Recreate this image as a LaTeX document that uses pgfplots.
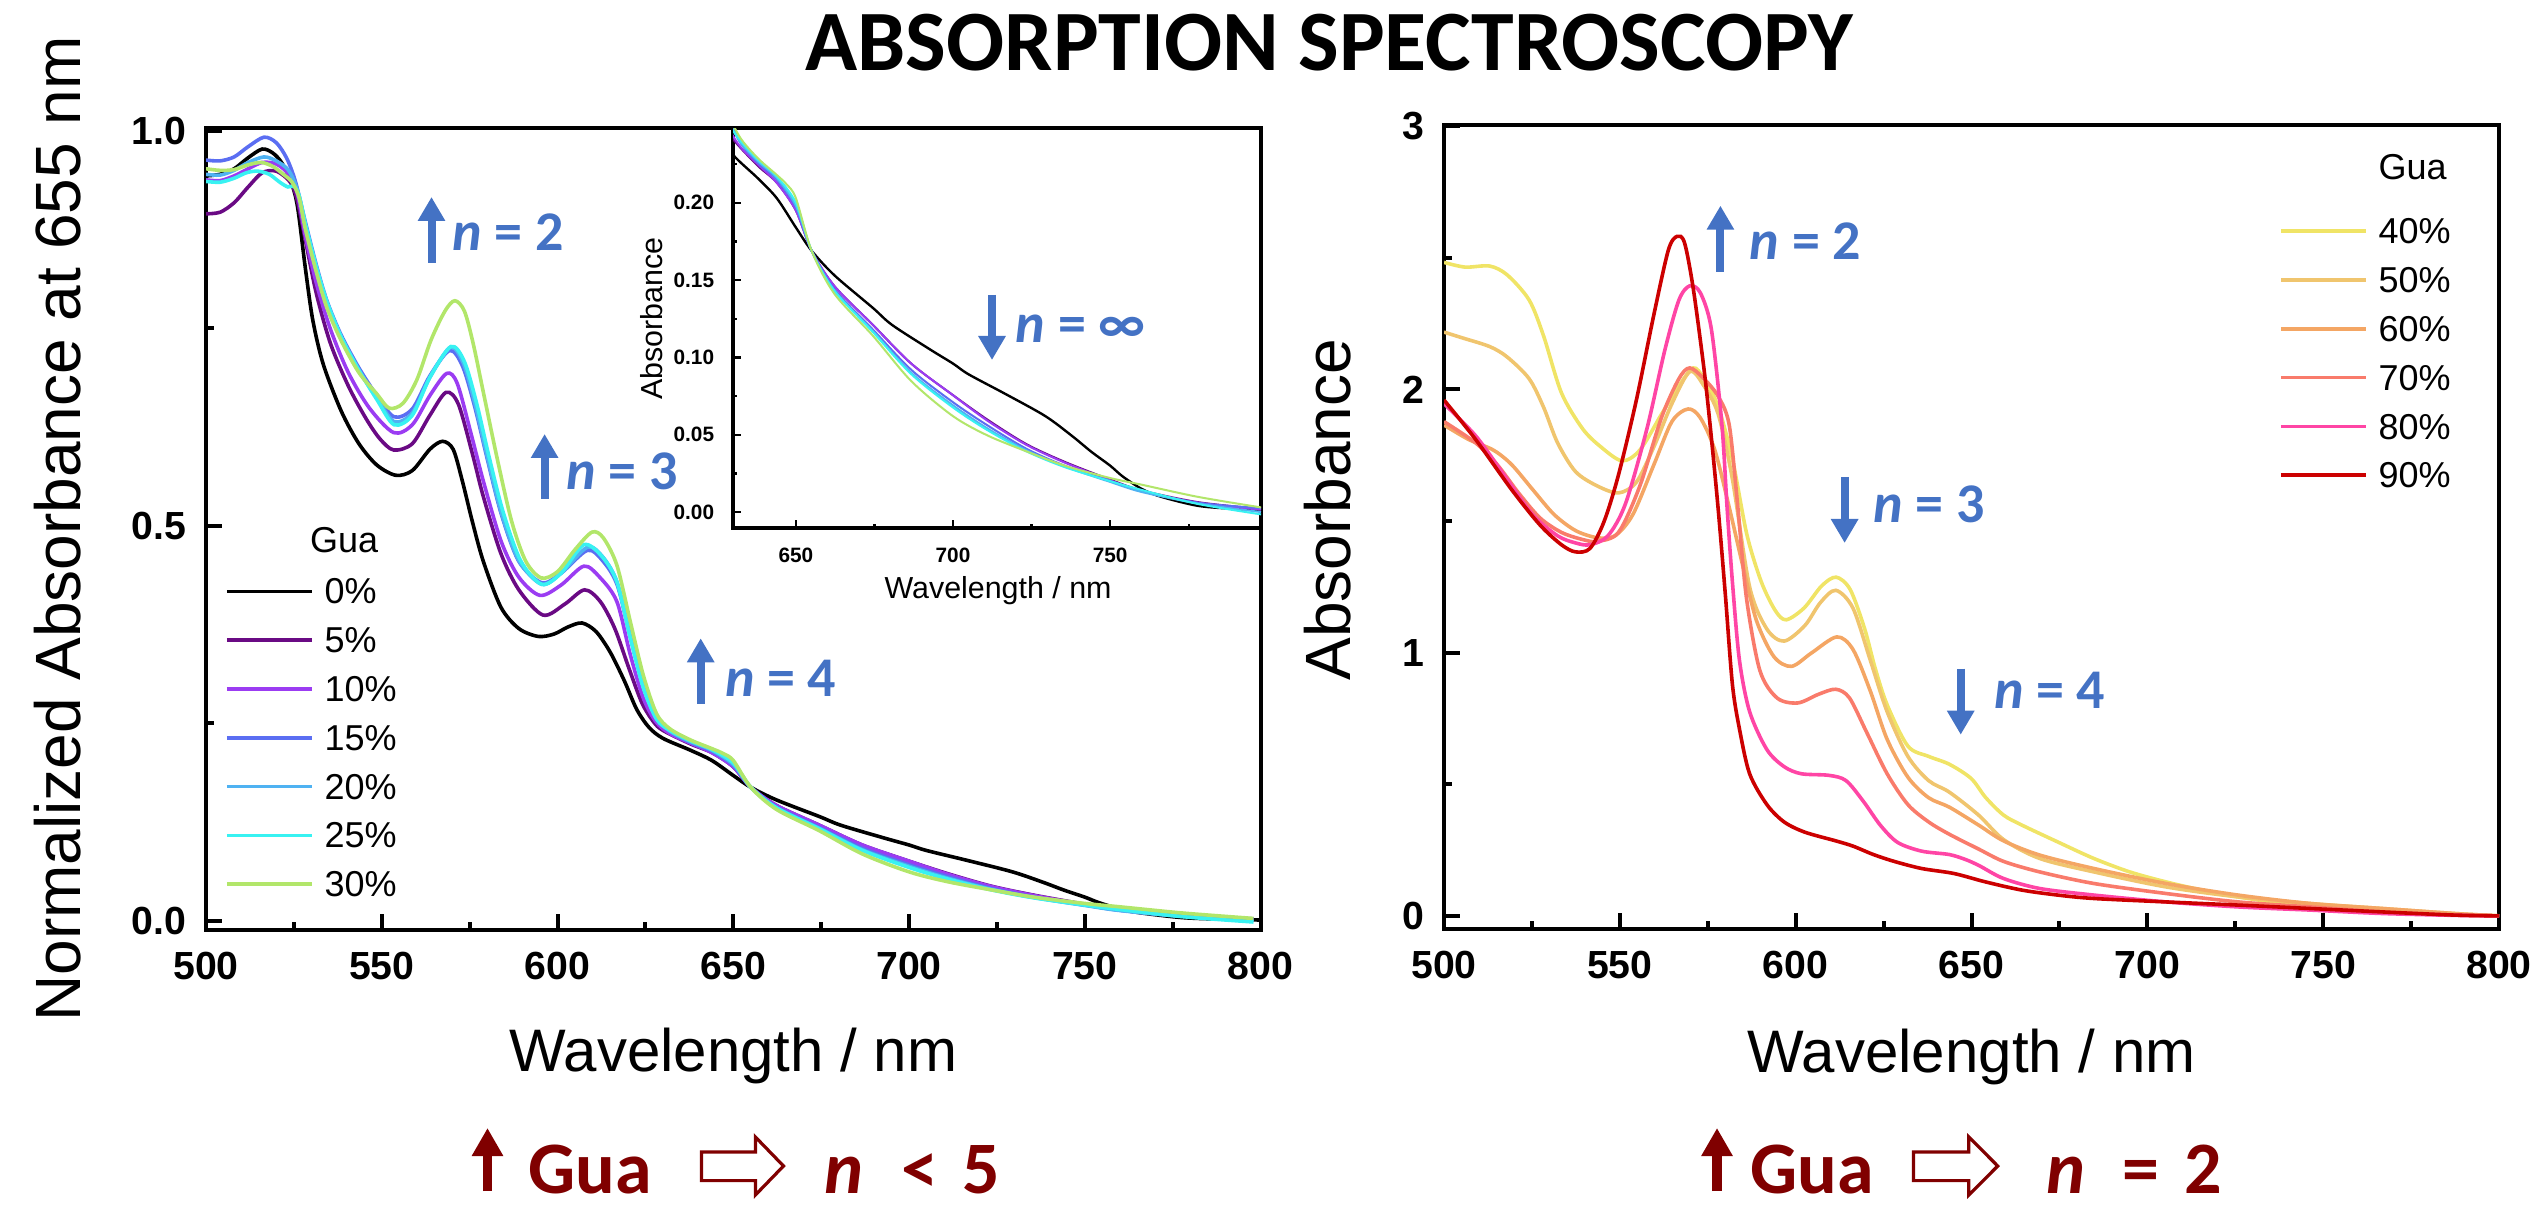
\documentclass[border=0pt]{standalone}
\usepackage{fontspec}
\setmainfont{Liberation Sans}
\newfontfamily\calfont{Carlito}
\usepackage{pgfplots}
\usepackage{pgfplotstable}
\pgfplotsset{compat=1.18}
\usetikzlibrary{arrows.meta}

\definecolor{c0}{HTML}{000000}
\definecolor{c5}{HTML}{6A0A84}
\definecolor{c10}{HTML}{9B3CF2}
\definecolor{c15}{HTML}{5B6EF2}
\definecolor{c20}{HTML}{4FB2F2}
\definecolor{c25}{HTML}{38F2F2}
\definecolor{c30}{HTML}{B2E66A}
\definecolor{c40}{HTML}{F0E466}
\definecolor{c50}{HTML}{F0C56E}
\definecolor{c60}{HTML}{F4A664}
\definecolor{c70}{HTML}{F97B6B}
\definecolor{c80}{HTML}{FF45A5}
\definecolor{c90}{HTML}{CC0000}
\definecolor{annblue}{HTML}{4472C4}
\definecolor{darkred}{HTML}{800000}

% ---------- left panel (normalized) ----------
\pgfplotstableread{
w a
500 0.943
504 0.945
508 0.952
512 0.966
516 0.977
519 0.972
521.5 0.960
524 0.938
526 0.905
528.3 0.825
530.4 0.760
533.4 0.704
538.5 0.645
543.5 0.604
548.6 0.577
554 0.564
558.7 0.570
563.7 0.597
567.3 0.607
570.3 0.597
572.8 0.559
575.8 0.505
578.9 0.455
583.9 0.397
589 0.370
594.5 0.360
599 0.363
603 0.372
607 0.377
611 0.366
615 0.340
619 0.304
622.5 0.268
626 0.245
630 0.231
637.8 0.216
643.9 0.203
650 0.184
655 0.169
662.3 0.153
674.5 0.132
680.6 0.121
692.8 0.105
700 0.096
705 0.089
717 0.076
729.4 0.062
738 0.049
744 0.039
750 0.030
754 0.023
760 0.015
766 0.010
778 0.004
790 0.002
800 0.001
}\tZero
\pgfplotstableread{
w a
500 0.895
504 0.897
508 0.909
512 0.929
516 0.947
520 0.949
523.8 0.936
525.8 0.915
528.3 0.861
531.4 0.794
535.4 0.731
540.5 0.677
545.5 0.636
549.5 0.610
553.4 0.596
558.7 0.604
563.7 0.640
568.3 0.669
571.8 0.654
575.8 0.591
578.9 0.537
583.9 0.465
589 0.419
595.9 0.387
602.1 0.401
607.7 0.419
612.2 0.404
616.3 0.370
620.3 0.320
624 0.276
627.3 0.252
630 0.241
637.8 0.224
643.9 0.213
650 0.195
655 0.169
662.3 0.146
674.5 0.121
686.7 0.096
700 0.0756
711 0.0597
723.3 0.044
735.5 0.0325
750 0.021
760 0.014
778 0.0064
798 0.002
}\tFive
\pgfplotstableread{
w a
500 0.938
504 0.937
508 0.943
512 0.952
516 0.960
520 0.958
523.5 0.945
526 0.920
528.3 0.866
531.4 0.807
535.4 0.749
540.5 0.694
546.5 0.649
553.4 0.618
558.7 0.628
563.7 0.665
568.5 0.693
571.5 0.680
575.5 0.615
579 0.555
584 0.480
589 0.435
595 0.412
601 0.425
607.5 0.449
612 0.435
616.9 0.404
620.7 0.337
624.4 0.282
628 0.252
632 0.237
637.8 0.225
643.9 0.213
650 0.195
655 0.169
662.3 0.146
674.5 0.121
686.7 0.096
700 0.0755
711 0.059
723.3 0.0435
735.5 0.032
750 0.0205
760 0.0135
778 0.006
798 0.0015
}\tTen
\pgfplotstableread{
w a
500 0.963
504 0.962
508 0.967
512 0.980
516.5 0.992
520 0.985
523 0.965
525.5 0.935
528.3 0.884
531.4 0.830
534.4 0.785
538.4 0.742
543.5 0.700
548.6 0.665
553.5 0.638
558.7 0.648
563.7 0.690
569.3 0.722
573 0.702
576.5 0.650
580 0.585
584 0.515
589 0.455
595.5 0.428
601 0.440
608.5 0.469
613 0.455
617 0.425
620.7 0.360
624.4 0.300
628 0.262
632 0.240
637.8 0.226
643.9 0.215
650 0.197
655 0.169
662.3 0.144
674.5 0.118
686.7 0.092
700 0.071
711 0.056
723.3 0.041
735.5 0.030
750 0.020
760 0.0135
778 0.006
798 0.0025
}\tFifteen
\pgfplotstableread{
w a
500 0.945
504 0.944
508 0.950
512 0.960
516.5 0.967
520 0.962
523.5 0.950
526 0.925
528.3 0.880
531.4 0.826
534.4 0.782
538.4 0.739
543.5 0.697
548.6 0.662
553.5 0.632
558.7 0.643
563.7 0.688
569.5 0.726
573.2 0.706
576.5 0.655
580 0.588
584 0.517
589 0.456
595.5 0.426
601 0.440
608.5 0.473
613 0.460
617 0.428
620.7 0.360
624.4 0.298
628 0.258
632 0.240
637.8 0.227
643.9 0.216
650 0.198
655 0.169
662.3 0.143
674.5 0.117
686.7 0.090
700 0.069
711 0.054
723.3 0.040
735.5 0.0295
750 0.0195
760 0.013
778 0.0055
798 0.000
}\tTwenty
\pgfplotstableread{
w a
500 0.936
504 0.935
508 0.940
511.5 0.947
514.7 0.949
518 0.945
521 0.935
523.3 0.929
525 0.930
526.5 0.918
528.3 0.882
531.4 0.828
534.4 0.784
538.4 0.740
543.5 0.697
548.6 0.660
553.5 0.628
558.7 0.640
563.7 0.688
569.7 0.727
573.5 0.708
577 0.655
580.5 0.588
584.5 0.518
589.5 0.456
595.5 0.426
601 0.440
607.4 0.476
612.5 0.462
616.9 0.429
620.7 0.358
624.4 0.295
628.2 0.255
632 0.241
637.8 0.228
643.9 0.217
650 0.200
655 0.169
662.3 0.143
674.5 0.1164
686.7 0.0892
700 0.0676
711 0.0529
723.3 0.0393
735.5 0.0291
750 0.020
760 0.0143
778 0.0052
798 -0.0015
}\tTwentyFive
\pgfplotstableread{
w a
500 0.952
504 0.950
508 0.951
512 0.957
515.7 0.960
519 0.955
522 0.945
524.5 0.935
526.5 0.915
528.3 0.875
531.4 0.821
534.4 0.776
538.4 0.735
543.5 0.694
548.6 0.667
552.1 0.649
556 0.655
560 0.685
564 0.735
568 0.772
570.8 0.785
573.5 0.772
576 0.731
579 0.667
583 0.582
587 0.505
591 0.455
595.4 0.434
600 0.442
605 0.470
609.8 0.492
613 0.485
616.9 0.450
620.7 0.379
624.4 0.311
628.2 0.262
632 0.243
637.8 0.229
643.9 0.218
647 0.212
650 0.203
655 0.169
662.3 0.141
674.5 0.114
686.7 0.0847
700 0.062
711 0.0495
723.3 0.0393
735.5 0.030
750 0.022
760 0.0177
778 0.0098
798 0.003
}\tThirty

% ---------- right panel ----------
\pgfplotstableread{
w a
500 2.483
506 2.465
513 2.469
518 2.435
524.2 2.340
528.3 2.204
533.4 1.987
539.4 1.851
544.5 1.783
550.6 1.729
555.7 1.770
561.8 1.905
566.8 2.014
570.9 2.082
573.9 2.041
578 1.933
582.1 1.729
586.1 1.45
590.2 1.27
594.2 1.16
597.3 1.125
602.4 1.170
607.4 1.254
611.5 1.287
615.5 1.240
619.6 1.091
622.6 0.941
626 0.802
631.9 0.645
637.8 0.606
643.7 0.576
649.9 0.522
654 0.450
659.1 0.383
664.3 0.345
674.5 0.281
684.8 0.218
695 0.167
705.3 0.129
715.5 0.098
725.8 0.072
746.3 0.034
766.8 0.015
787.3 0.004
800 0.0
}\tForty
\pgfplotstableread{
w a
500 2.218
505 2.197
513 2.163
518 2.123
524.2 2.041
528.3 1.933
532.3 1.797
537.4 1.688
543.5 1.634
549.6 1.607
554.7 1.648
559.7 1.783
564.8 1.946
569.9 2.068
573.9 2.014
578 1.905
582 1.66
586.9 1.25
591.8 1.090
596.7 1.044
602.6 1.103
607 1.190
611.4 1.237
616.3 1.169
621.2 0.972
626 0.776
631.9 0.606
637.8 0.514
643.7 0.470
652 0.383
659.1 0.290
669.4 0.218
684.8 0.167
705.3 0.110
725.8 0.072
746.3 0.047
766.8 0.028
787.3 0.009
800 0.0
}\tFifty
\pgfplotstableread{
w a
500 1.865
507 1.810
514 1.770
519.2 1.715
525.2 1.620
531.3 1.525
537.4 1.464
543.5 1.437
548.6 1.444
553.7 1.525
559.7 1.715
564.8 1.878
569.4 1.926
572.9 1.892
577 1.770
581.1 1.552
585.1 1.322
588.9 1.12
593.8 0.985
598.8 0.948
604.5 0.999
611.7 1.060
616.3 1.012
621.2 0.855
626 0.671
631.9 0.527
637.8 0.449
643.7 0.413
652 0.345
659.1 0.285
669.4 0.231
684.8 0.180
705.3 0.123
725.8 0.079
746.3 0.047
766.8 0.028
787.3 0.009
800 0.0
}\tSixty
\pgfplotstableread{
w a
500 1.878
509 1.797
515.1 1.715
521.2 1.607
527.3 1.512
533.4 1.457
539.4 1.430
543.5 1.423
549.6 1.457
555.7 1.634
561.8 1.892
566.8 2.041
569.9 2.082
573.9 2.041
578 1.973
581.1 1.865
583.5 1.560
586 1.208
589.8 0.933
594.7 0.828
600.6 0.809
606.5 0.842
611.4 0.861
615.3 0.828
620.2 0.697
626 0.540
631.9 0.423
637.8 0.357
643.7 0.310
652 0.254
659.1 0.207
669.4 0.167
684.8 0.123
705.3 0.085
725.8 0.053
746.3 0.034
766.8 0.015
787.3 0.003
800 0.0
}\tSeventy
\pgfplotstableread{
w a
500 1.946
509 1.824
517.1 1.675
525.2 1.525
532.3 1.444
537.4 1.417
541.5 1.410
546.6 1.444
551.6 1.566
557.7 1.851
562.8 2.150
566.8 2.340
569.9 2.394
572.9 2.367
576 2.231
579 1.870
580.5 1.550
582 1.270
584 0.972
586.9 0.776
591.8 0.632
596.7 0.567
601.6 0.540
609.4 0.534
614.3 0.514
619.2 0.436
624.1 0.344
629 0.279
635.8 0.246
643.7 0.233
648.5 0.213
652.3 0.190
659.1 0.142
669.4 0.104
684.8 0.079
705.3 0.053
725.8 0.034
746.3 0.022
766.8 0.009
787.3 0.002
800 0.0
}\tEighty
\pgfplotstableread{
w a
500 1.960
509 1.810
519.2 1.620
527.3 1.485
533.4 1.410
537.4 1.383
541.5 1.396
545.5 1.498
549.6 1.675
554.7 1.960
559.7 2.286
563.8 2.530
566.3 2.582
568.4 2.557
570.9 2.381
574 2.070
576 1.820
578 1.540
580 1.220
582 0.880
584 0.711
586.9 0.540
591.8 0.423
596.7 0.357
602.6 0.318
611.4 0.285
616.3 0.265
622.1 0.233
628 0.207
635.8 0.180
645 0.161
654 0.129
664.3 0.098
674.5 0.079
684.8 0.066
705.3 0.053
725.8 0.041
746.3 0.028
766.8 0.015
787.3 0.003
800 0.0
}\tNinety

\pgfplotsset{
  mainax/.style={
    scale only axis, anchor=south west,
    xmin=500, xmax=800,
    xtick={500,550,600,650,700,750,800},
    xticklabels={500,550,600,650,700,750,800},
    minor xtick={525,575,625,675,725,775},
    tick align=inside, xtick pos=left, ytick pos=left,
    major tick length=4pt, minor tick length=2pt,
    tick style={line width=1pt, black},
    axis line style={line width=1pt},
    ticklabel style={font=\fontsize{9.8}{11.5}\selectfont\bfseries},
    xticklabel style={yshift=-2.1pt},
    yticklabel style={xshift=-1.4pt},
    legend cell align=left,
    legend image code/.code={\draw[##1,line width=0.9pt] (0pt,0.5pt) -- (21.25pt,0.5pt); \path (22.25pt,0pt);},
    every axis plot/.append style={smooth, line width=0.9pt},
  },
  legsty/.style={draw=none, fill=none, inner sep=0pt, outer sep=0pt, row sep=0pt,
    nodes={inner sep=1.75pt, text height=7pt, text depth=1.7pt},
    font=\fontsize{9}{10.8}\selectfont},
}

\begin{document}
\begin{tikzpicture}
\useasboundingbox (0,0) rectangle (633.5pt,302.5pt);

% ===== left main axis =====
\begin{axis}[mainax,
  at={(51.5pt,70.125pt)}, width=263.625pt, height=200.25pt,
  ymin=-0.011, ymax=1.003,
  ytick={0,0.5,1}, yticklabels={0.0,0.5,1.0}, minor ytick={0.25,0.75},
  xlabel={Wavelength / nm}, ylabel={Normalized Absorbance at 655 nm},
  every axis x label/.style={at={(axis description cs:0.5,-0.1778)}, anchor=base, font=\fontsize{15}{18}\selectfont},
  every axis y label/.style={at={(axis description cs:-0.1403,0.5)}, rotate=90, anchor=center, font=\fontsize{16}{19}\selectfont},
  legend style={legsty, at={(axis description cs:0.018,0.5111)}, anchor=north west},
]
\addlegendimage{empty legend}\addlegendentry{\hspace*{-3.6pt}\raisebox{0.55pt}{Gua}}
\addplot[c0] table[x=w,y=a]{\tZero};\addlegendentry{0\%}
\addplot[c5] table[x=w,y=a]{\tFive};\addlegendentry{5\%}
\addplot[c10] table[x=w,y=a]{\tTen};\addlegendentry{10\%}
\addplot[c15] table[x=w,y=a]{\tFifteen};\addlegendentry{15\%}
\addplot[c20] table[x=w,y=a]{\tTwenty};\addlegendentry{20\%}
\addplot[c25] table[x=w,y=a]{\tTwentyFive};\addlegendentry{25\%}
\addplot[c30] table[x=w,y=a]{\tThirty};\addlegendentry{30\%}
\end{axis}

% ===== inset =====
\begin{axis}[
  at={(183.25pt,170.5pt)}, anchor=south west, scale only axis,
  width=132pt, height=99.875pt,
  axis background/.style={fill=white},
  xmin=630, xmax=798, ymin=-0.0103, ymax=0.248,
  xtick={650,700,750}, xticklabels={650,700,750}, minor xtick={675,725,775},
  ytick={0,0.05,0.1,0.15,0.2}, yticklabels={0.00,0.05,0.10,0.15,0.20},
  minor ytick={0.025,0.075,0.125,0.175,0.225},
  tick align=inside, xtick pos=left, ytick pos=left,
  major tick length=2pt, minor tick length=1pt,
  tick style={line width=0.6pt, black},
  axis line style={line width=0.8pt},
  ticklabel style={font=\fontsize{5.2}{6}\selectfont\bfseries},
  xticklabel style={yshift=-1.4pt},
  yticklabel style={xshift=-1.2pt},
  xlabel={Wavelength / nm}, ylabel={Absorbance},
  every axis x label/.style={at={(axis description cs:0.502,-0.1767)}, anchor=base, font=\fontsize{7.6}{9}\selectfont},
  every axis y label/.style={at={(axis description cs:-0.1534,0.524)}, rotate=90, anchor=center, font=\fontsize{7.6}{9}\selectfont},
  every axis plot/.append style={smooth, line width=0.5pt},
]
\addplot[c0,line width=0.6pt] table[x=w,y=a]{\tZero};
\addplot[c5] table[x=w,y=a]{\tFive};
\addplot[c10] table[x=w,y=a]{\tTen};
\addplot[c15] table[x=w,y=a]{\tFifteen};
\addplot[c20] table[x=w,y=a]{\tTwenty};
\addplot[c25] table[x=w,y=a]{\tTwentyFive};
\addplot[c30] table[x=w,y=a]{\tThirty};
\end{axis}

% ===== right axis =====
\begin{axis}[mainax,
  at={(361pt,70.375pt)}, width=263.75pt, height=200.875pt,
  ymin=-0.048, ymax=3.005,
  ytick={0,1,2,3}, yticklabels={0,1,2,3}, minor ytick={0.5,1.5,2.5},
  xlabel={Wavelength / nm}, ylabel={Absorbance},
  every axis x label/.style={at={(axis description cs:0.5,-0.1787)}, anchor=base, font=\fontsize{15}{18}\selectfont},
  every axis y label/.style={at={(axis description cs:-0.1104,0.521)}, rotate=90, anchor=center, font=\fontsize{16}{19}\selectfont},
  legend style={legsty, at={(axis description cs:0.7915,0.9564)}, anchor=north west},
]
\addlegendimage{empty legend}\addlegendentry{\raisebox{3.9pt}{Gua}}
\addplot[c40] table[x=w,y=a]{\tForty};\addlegendentry{40\%}
\addplot[c50] table[x=w,y=a]{\tFifty};\addlegendentry{50\%}
\addplot[c60] table[x=w,y=a]{\tSixty};\addlegendentry{60\%}
\addplot[c70] table[x=w,y=a]{\tSeventy};\addlegendentry{70\%}
\addplot[c80] table[x=w,y=a]{\tEighty};\addlegendentry{80\%}
\addplot[c90] table[x=w,y=a]{\tNinety};\addlegendentry{90\%}
\end{axis}

% ===== annotations in pixel coordinates =====
\begin{scope}[x=0.25pt, y=-0.25pt, yshift=302.5pt]
  \node[anchor=base, inner sep=0, font=\calfont\bfseries\fontsize{21.5}{25}\selectfont] at (1329.5,70.8) {ABSORPTION SPECTROSCOPY};

  \tikzset{annarr/.style={draw=annblue, line width=2pt, -{Triangle[width=6.5pt,length=6pt]}},
           anntxt/.style={anchor=west, inner sep=0, text=annblue, font=\calfont\bfseries\fontsize{14}{16}\selectfont}}
  % left panel
  \draw[annarr] (431.5,263) -- (431.5,197);
  \node[anntxt] at (452,232) {\textit{n} = 2};
  \draw[annarr] (544.6,498.6) -- (544.6,434);
  \node[anntxt] at (566,471.8) {\textit{n} = 3};
  \draw[annarr] (700.7,704) -- (700.7,638.3);
  \node[anntxt] at (724.3,678.3) {\textit{n} = 4};
  \draw[annarr] (992,295) -- (992,360);
  \node[anntxt] at (1015,328.6) {\textit{n} = ∞};
  % right panel
  \draw[annarr] (1720.4,271.8) -- (1720.4,205.7);
  \node[anntxt] at (1749,241.4) {\textit{n} = 2};
  \draw[annarr] (1844.6,477) -- (1844.6,543);
  \node[anntxt] at (1872.9,504) {\textit{n} = 3};
  \draw[annarr] (1960.7,668.6) -- (1960.7,734.7);
  \node[anntxt] at (1993.3,690) {\textit{n} = 4};

  % bottom captions (raised slightly so that their text boxes stay inside the page)
  \begin{scope}[yshift=2.5pt]
  \tikzset{redarr/.style={draw=darkred, line width=2.4pt, -{Triangle[width=7.4pt,length=7pt]}},
           redtxt/.style={anchor=base west, inner sep=0, text depth=0pt, text=darkred, font=\calfont\bfseries\fontsize{18.5}{22}\selectfont}}
  \draw[redarr] (487.5,1201) -- (487.5,1138);
  \node[redtxt] at (528,1203) {Gua};
  \draw[darkred, line width=0.8pt, fill=white] (701.5,1162) -- (755.4,1162) -- (755.4,1147) -- (783.5,1176) -- (755.4,1205) -- (755.4,1190.6) -- (701.5,1190.6) -- cycle;
  \node[redtxt] at (823.4,1203) {\textit{n}};
  \node[redtxt] at (901,1203) {<};
  \node[redtxt] at (962,1203) {5};

  \draw[redarr] (1717,1201) -- (1717,1138);
  \node[redtxt] at (1749.6,1203) {Gua};
  \draw[darkred, line width=0.8pt, fill=white] (1913.4,1162) -- (1968.8,1162) -- (1968.8,1147) -- (1997.7,1176) -- (1968.8,1205) -- (1968.8,1190.6) -- (1913.4,1190.6) -- cycle;
  \node[redtxt] at (2046,1203) {\textit{n}};
  \node[redtxt] at (2122,1203) {=};
  \node[redtxt] at (2183.6,1203) {2};
  \end{scope}
\end{scope}
\end{tikzpicture}
\end{document}
